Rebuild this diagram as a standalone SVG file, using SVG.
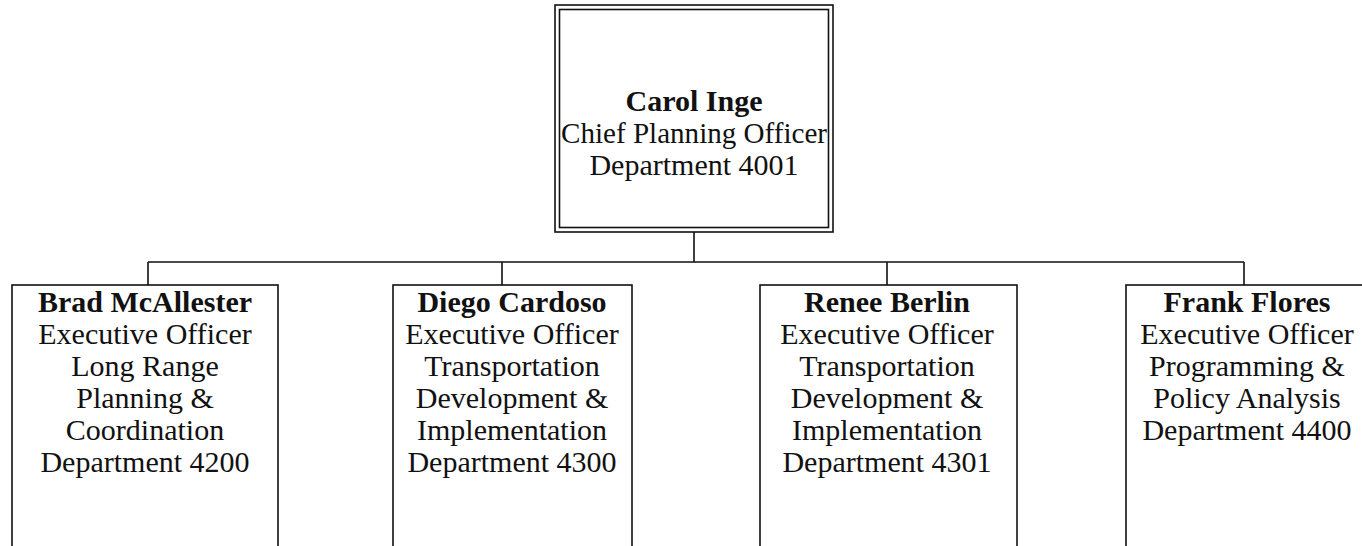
<svg xmlns="http://www.w3.org/2000/svg" width="1362" height="546" viewBox="0 0 1362 546">
<style>
.box{fill:#fff;stroke:#111;stroke-width:1.6}
.ln{fill:none;stroke:#111;stroke-width:1.6}
text{font-family:"Liberation Serif","Times New Roman",serif;font-size:30px;fill:#111;text-anchor:middle}
.b{font-weight:bold}
</style>
<rect width="1362" height="546" fill="#fff"/>
<g id="connectors">
<path class="ln" d="M694 232V262M148 262H1244M148 262V285M502 262V285M887 262V285M1244 262V285"/>
</g>
<g id="carol">
<rect class="box" x="555" y="5" width="278" height="227"/>
<rect class="box" x="559.5" y="9.5" width="269" height="218"/>
<text x="694" y="111" class="b">Carol Inge</text>
<text x="694" y="143" textLength="266" lengthAdjust="spacingAndGlyphs">Chief Planning Officer</text>
<text x="694" y="175">Department 4001</text>
</g>
<g id="brad">
<rect class="box" x="12" y="285" width="266" height="280"/>
<text x="145" y="312" class="b">Brad McAllester</text>
<text x="145" y="344">Executive Officer</text>
<text x="145" y="376">Long Range</text>
<text x="145" y="408">Planning &amp;</text>
<text x="145" y="440">Coordination</text>
<text x="145" y="472">Department 4200</text>
</g>
<g id="diego">
<rect class="box" x="393" y="285" width="239" height="280"/>
<text x="512" y="312" class="b">Diego Cardoso</text>
<text x="512" y="344">Executive Officer</text>
<text x="512" y="376">Transportation</text>
<text x="512" y="408">Development &amp;</text>
<text x="512" y="440">Implementation</text>
<text x="512" y="472">Department 4300</text>
</g>
<g id="renee">
<rect class="box" x="760" y="285" width="257" height="280"/>
<text x="887" y="312" class="b">Renee Berlin</text>
<text x="887" y="344">Executive Officer</text>
<text x="887" y="376">Transportation</text>
<text x="887" y="408">Development &amp;</text>
<text x="887" y="440">Implementation</text>
<text x="887" y="472">Department 4301</text>
</g>
<g id="frank">
<rect class="box" x="1126" y="285" width="260" height="280"/>
<text x="1247" y="312" class="b">Frank Flores</text>
<text x="1247" y="344">Executive Officer</text>
<text x="1247" y="376">Programming &amp;</text>
<text x="1247" y="408">Policy Analysis</text>
<text x="1247" y="440">Department 4400</text>
</g>
</svg>
